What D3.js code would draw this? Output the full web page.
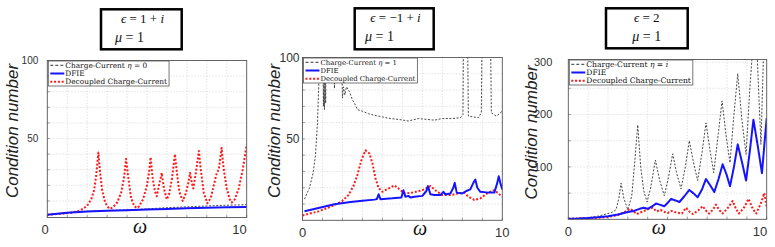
<!DOCTYPE html>
<html>
<head>
<meta charset="utf-8">
<script src="https://cdn.jsdelivr.net/npm/d3@7"></script>
<style>
  body { margin: 0; background: #fff; }
  .tick-label { font-family: "Liberation Sans", Helvetica, Arial, sans-serif; fill: #333; }
  .ytitle { font-family: "Liberation Sans", Helvetica, Arial, sans-serif; font-style: italic; font-size: 17px; fill: #222; }
  .math { font-family: "Liberation Serif", "DejaVu Serif", serif; fill: #111; }
  .legend-text { font-family: "DejaVu Serif", "Liberation Serif", serif; fill: #111; }
</style>
</head>
<body>
<div id="chart"></div>
<script>

// ---- data: [omega, condition number] ----
var xTicks = [0, 10];

// panel 1 : eps = 1 + i
var p1Charge = [[0,1.2],[1,2.5],[2,3.4],[3,3.9],[4,4.3],[5,4.9],[6,5.7],[7,6.2],[8,6.8],[9,7.3],[10,7.6]];
var p1Dfie = [[0,1.1],[1,2.4],[2,3.3],[3,3.8],[4,4.1],[5,4.5],[6,4.9],[7,5.3],[8,5.7],[9,6.0],[10,6.2]];
var p1Decoupled = [[0,1.2],[0.5,1.6],[1,2.2],[1.5,3.2],[1.8,5],[2,7],[2.2,11],[2.35,17],[2.45,26],[2.56,41],
  [2.65,28],[2.75,17],[2.9,9],[3.05,6],[3.15,5],[3.3,6],[3.5,9],[3.7,15],[3.85,25],[3.95,37],[4.05,26],
  [4.2,12],[4.35,7],[4.48,5.5],[4.6,6.5],[4.8,11],[5,20],[5.1,28],[5.18,38],[5.28,25],[5.4,16],[5.49,13],
  [5.6,20],[5.74,28],[5.85,18],[5.99,11],[6.1,14],[6.25,24],[6.4,40],[6.5,28],[6.62,16],[6.79,10],
  [6.95,15],[7.08,22],[7.16,28],[7.24,22],[7.32,18],[7.45,28],[7.6,42],[7.7,30],[7.85,15],[8.03,8.5],
  [8.2,12],[8.35,20],[8.5,28],[8.6,30],[8.74,44],[8.85,30],[9,18],[9.15,11],[9.25,9],[9.4,11],[9.6,18],
  [9.8,30],[10,46]];

// panel 2 : eps = -1 + i
var p2Charge = [[0.1,13],[0.35,20],[0.53,29],[0.65,40],[0.75,60],[0.85,95],[0.92,130],[1,130],[1.05,70],
  [1.08,95],[1.1,68],[1.13,90],[1.16,72],[1.2,130],[1.5,130],[1.6,81],[1.65,130],[1.9,130],[2,75],
  [2.05,82],[2.12,77],[2.2,82],[2.35,79],[2.5,74],[2.6,72],[2.75,68],[3,67],[3.3,65.5],[3.6,64.5],
  [4,63.5],[4.4,62.5],[4.8,62],[5.3,61],[5.8,62.5],[6.2,62],[6.6,61.5],[7,62.5],[7.5,62.5],[7.9,63],
  [8.03,65],[8.07,130],[8.25,130],[8.3,64],[8.8,63],[8.95,66],[9,130],[9.4,130],[9.45,66],[9.7,64],[10,67]];
var p2Dfie = [[0.1,5.5],[0.8,7.5],[1.6,9.8],[2.4,11.2],[3,12],[3.6,12.7],[3.72,13],[3.81,16],[3.9,13],
  [4.5,13.5],[4.95,14],[5.05,18.5],[5.15,14.5],[5.3,15],[5.4,14],[5.6,14.5],[6,15],[6.2,18],[6.28,21],
  [6.4,16],[6.6,15.5],[6.9,15.5],[7.05,17.5],[7.15,16],[7.4,16.5],[7.55,20],[7.62,23],[7.72,17],[8,16.5],
  [8.2,18],[8.4,19],[8.55,23],[8.65,25],[8.75,20],[8.9,17.5],[9.3,17],[9.6,17],[9.75,23],[9.82,27],
  [9.9,23],[10,19]];
var p2Decoupled = [[0,3],[0.8,5.5],[1.6,9.3],[2,12],[2.3,15.5],[2.55,21],[2.75,28],[2.95,37],[3.15,43],
  [3.35,41],[3.5,35],[3.65,26],[3.8,20],[4,17.5],[4.3,19.5],[4.6,21.5],[4.85,19],[5.1,16.5],[5.5,17],
  [6,18.5],[6.4,21],[6.7,18],[7,15.5],[7.4,15.5],[7.8,16.5],[8.1,17],[8.3,14.5],[8.6,12.5],[8.9,13.5],
  [9.3,17],[9.6,18.5],[10,14.5]];

// panel 3 : eps = 2
var p3Charge = [[0,1],[1,3],[1.5,6],[1.9,10],[2.2,13],[2.4,18],[2.55,40],[2.66,69],[2.8,40],[3,18],
  [3.2,45],[3.35,110],[3.5,180],[3.65,100],[3.8,55],[3.97,33],[4.15,60],[4.39,113],[4.6,75],[4.84,45],
  [5.05,80],[5.26,125],[5.45,90],[5.68,58],[5.9,100],[6.1,150],[6.3,110],[6.52,74],[6.75,130],[6.94,184],
  [7.15,130],[7.33,89],[7.55,160],[7.75,226],[7.95,160],[8.15,108],[8.35,200],[8.54,278],[8.75,190],
  [8.96,124],[9.15,250],[9.3,330],[9.5,330],[9.71,143],[9.85,330],[10,330]];
var p3Dfie = [[0,1],[0.5,1.5],[1,2.5],[1.5,4],[2,6],[2.5,9],[3,14],[3.3,16],[3.6,20],[3.8,22],[4,20],
  [4.2,24],[4.42,30],[4.6,28],[4.84,25],[5,31],[5.18,39],[5.4,36],[5.6,33],[5.85,44],[6.1,56],[6.3,50],
  [6.52,42],[6.75,58],[6.94,77],[7.15,65],[7.36,52],[7.58,78],[7.78,105],[7.98,85],[8.15,63],[8.35,100],
  [8.54,143],[8.75,110],[8.96,74],[9.15,130],[9.33,190],[9.55,140],[9.76,88],[9.9,150],[10,193]];
var p3Decoupled = [[0,1],[1,2],[1.5,3],[2,4.5],[2.5,8],[2.8,13],[3.1,20],[3.25,17],[3.45,10],[3.7,14],
  [4,19],[4.25,22],[4.45,15],[4.65,18],[4.85,14],[5,12],[5.2,16],[5.45,13],[5.73,11],[5.93,22],[6.1,15],
  [6.28,10],[6.55,17],[6.77,25],[6.95,16],[7.1,11],[7.3,19],[7.44,28],[7.6,18],[7.78,11],[8.05,22],
  [8.28,35],[8.45,20],[8.6,11],[8.85,22],[9.09,39],[9.3,20],[9.47,11],[9.7,30],[9.88,50],[10,23]];

// ---- layout of the three panels ----
var panels = [
  { left: 47.3, right: 246.7, top: 60.5, bottom: 217.5, yMin: -0.6, yMax: 100, yTicks: [50, 100], yStep: 10,
    yLabelGap: 9, yLabelSize: 10, xLabelAnchor: ["end", "end"], xLabelDx: [1.5, 0],
    omegaX: 140, omegaY: 233, titleX: 18.3, titleY: 131,
    box: { x: 101, y: 9.3, w: 80.7, h: 40 }, eps: ["1 + ", "i"], epsX: 142.5, epsAnchor: "middle", muX: 115, muAnchor: "start",
    legendSize: 7.4, eta: "0",
    charge: p1Charge, dfie: p1Dfie, decoupled: p1Decoupled },
  { left: 302.5, right: 502.3, top: 57.5, bottom: 220.3, yMin: 0, yMax: 100, yTicks: [50, 100], yStep: 10,
    yLabelGap: 3, yLabelSize: 12, xLabelAnchor: ["middle", "middle"], xLabelDx: [0, 0],
    omegaX: 420, omegaY: 235, titleX: 280, titleY: 131,
    box: { x: 354.7, y: 8.3, w: 79, h: 41 }, eps: ["\u22121 + ", "i"], epsX: 395.5, epsAnchor: "middle", muX: 365, muAnchor: "start",
    legendSize: 6.9, eta: "1",
    charge: p2Charge, dfie: p2Dfie, decoupled: p2Decoupled },
  { left: 568.3, right: 766.7, top: 59.5, bottom: 219.3, yMin: 0, yMax: 305, yTicks: [100, 200, 300], yStep: 50,
    yLabelGap: 16, yLabelSize: 11, xLabelAnchor: ["middle", "end"], xLabelDx: [0, 0.5],
    omegaX: 658.7, omegaY: 234, titleX: 537, titleY: 132.5,
    box: { x: 606, y: 8.3, w: 81.7, h: 40 }, eps: ["2", ""], epsX: 646.8, epsAnchor: "middle", muX: 646.8, muAnchor: "middle",
    legendSize: 7.6, eta: "i",
    charge: p3Charge, dfie: p3Dfie, decoupled: p3Decoupled }
];

var styles = {
  charge: { stroke: "#333", width: 0.9, dash: "2,1.6" },
  dfie: { stroke: "#1414ff", width: 2, dash: null },
  decoupled: { stroke: "#ff1a1a", width: 2, dash: "2,1.8" }
};

var svg = d3.select("#chart")
  .append("svg")
  .attr("width", 775)
  .attr("height", 247);

panels.forEach(function(p, i) {
  var g = svg.append("g");

  var xScale = d3.scaleLinear().domain([0, 10]).range([p.left, p.right]);
  var yScale = d3.scaleLinear().domain([p.yMin, p.yMax]).range([p.bottom, p.top]);

  // grid
  var gridX = d3.range(1, 10);
  var gridY = d3.range(p.yStep, p.yMax, p.yStep);
  g.selectAll(".gx").data(gridX).enter().append("line")
    .attr("x1", d => xScale(d)).attr("x2", d => xScale(d))
    .attr("y1", p.top).attr("y2", p.bottom)
    .attr("stroke", "#d8d8d8").attr("stroke-width", 0.7).attr("stroke-dasharray", "1.5,1.5");
  g.selectAll(".gy").data(gridY).enter().append("line")
    .attr("x1", p.left).attr("x2", p.right)
    .attr("y1", d => yScale(d)).attr("y2", d => yScale(d))
    .attr("stroke", "#d8d8d8").attr("stroke-width", 0.7).attr("stroke-dasharray", "1.5,1.5");

  // small tick marks
  g.selectAll(".tx").data(d3.range(0, 11)).enter().append("line")
    .attr("x1", d => xScale(d)).attr("x2", d => xScale(d))
    .attr("y1", p.bottom).attr("y2", p.bottom - 2.5)
    .attr("stroke", "#777").attr("stroke-width", 0.7);
  g.selectAll(".ty").data(d3.range(p.yStep, p.yMax, p.yStep)).enter().append("line")
    .attr("x1", p.left).attr("x2", p.left + 2.5)
    .attr("y1", d => yScale(d)).attr("y2", d => yScale(d))
    .attr("stroke", "#777").attr("stroke-width", 0.7);

  // curves, clipped to the plot box
  var clipId = "clip" + i;
  svg.append("clipPath").attr("id", clipId)
    .append("rect")
    .attr("x", p.left).attr("y", p.top)
    .attr("width", p.right - p.left).attr("height", p.bottom - p.top);

  var line = d3.line()
    .x(d => xScale(d[0]))
    .y(d => yScale(d[1]));

  var curves = g.append("g").attr("clip-path", "url(#" + clipId + ")");
  ["charge", "decoupled", "dfie"].forEach(function(key) {
    var s = styles[key];
    curves.append("path")
      .datum(p[key])
      .attr("d", line)
      .attr("fill", "none")
      .attr("stroke", s.stroke)
      .attr("stroke-width", s.width)
      .attr("stroke-dasharray", s.dash)
      .attr("stroke-linejoin", "round");
  });

  // frame
  g.append("rect")
    .attr("x", p.left).attr("y", p.top)
    .attr("width", p.right - p.left).attr("height", p.bottom - p.top)
    .attr("fill", "none").attr("stroke", "#555").attr("stroke-width", 0.9);

  // tick labels
  xTicks.forEach(function(t, k) {
    g.append("text")
      .attr("class", "tick-label")
      .attr("x", xScale(t) + p.xLabelDx[k])
      .attr("y", p.bottom + 16.5)
      .attr("text-anchor", p.xLabelAnchor[k])
      .attr("font-size", 13)
      .text(t);
  });
  p.yTicks.forEach(function(t) {
    g.append("text")
      .attr("class", "tick-label")
      .attr("x", p.left - p.yLabelGap)
      .attr("y", yScale(t))
      .attr("dy", "0.35em")
      .attr("text-anchor", "end")
      .attr("font-size", p.yLabelSize)
      .text(t);
  });

  // axis titles
  g.append("text")
    .attr("class", "math")
    .attr("x", p.omegaX).attr("y", p.omegaY)
    .attr("text-anchor", "middle")
    .attr("font-size", 20)
    .attr("font-style", "italic")
    .text("\u03c9");

  g.append("text")
    .attr("class", "ytitle")
    .attr("transform", `translate(${p.titleX}, ${p.titleY}) rotate(-90)`)
    .attr("text-anchor", "middle")
    .text("Condition number");

  // parameter box above the plot
  g.append("rect")
    .attr("x", p.box.x).attr("y", p.box.y)
    .attr("width", p.box.w).attr("height", p.box.h)
    .attr("fill", "#fff").attr("stroke", "#000").attr("stroke-width", 2.5);

  var eps = g.append("text").attr("class", "math")
    .attr("x", p.epsX).attr("y", p.box.y + 13.5)
    .attr("text-anchor", p.epsAnchor)
    .attr("font-size", 13);
  eps.append("tspan").attr("font-style", "italic").text("\u03f5");
  eps.append("tspan").text(" = " + p.eps[0]);
  eps.append("tspan").attr("font-style", "italic").text(p.eps[1]);

  var mu = g.append("text").attr("class", "math")
    .attr("x", p.muX).attr("y", p.box.y + 33)
    .attr("text-anchor", p.muAnchor)
    .attr("font-size", 14);
  mu.append("tspan").attr("font-style", "italic").text("\u03bc");
  mu.append("tspan").text(" = 1");

  // legend in the upper left corner
  var lg = g.append("g").attr("transform", `translate(${p.left + 1}, ${p.top + 0.5})`);
  var lbox = lg.append("rect")
    .attr("fill", "#fff").attr("stroke", "#555").attr("stroke-width", 0.8)
    .attr("height", 25);

  var rows = [
    { key: "charge", text: "Charge-Current ", eta: true },
    { key: "dfie", text: "DFIE", eta: false },
    { key: "decoupled", text: "Decoupled Charge-Current", eta: false }
  ];
  var maxW = 0;
  rows.forEach(function(r, k) {
    var cy = 4.3 + k * 8.2;
    var s = styles[r.key];
    lg.append("line")
      .attr("x1", 2).attr("x2", 16)
      .attr("y1", cy).attr("y2", cy)
      .attr("stroke", s.stroke)
      .attr("stroke-width", r.key === "charge" ? 1 : 2)
      .attr("stroke-dasharray", r.key === "charge" ? "3,2" : s.dash);
    var t = lg.append("text").attr("class", "legend-text")
      .attr("x", 17).attr("y", cy + 2.6)
      .attr("font-size", p.legendSize)
      .text(r.text);
    if (r.eta) {
      t.append("tspan").attr("font-style", "italic").text("\u03b7");
      t.append("tspan").text(" = ");
      t.append("tspan").attr("font-style", p.eta === "i" ? "italic" : "normal").text(p.eta);
    }
    maxW = Math.max(maxW, t.node().getComputedTextLength());
  });
  lbox.attr("width", 17 + maxW + 2);
});

</script>
</body>
</html>
